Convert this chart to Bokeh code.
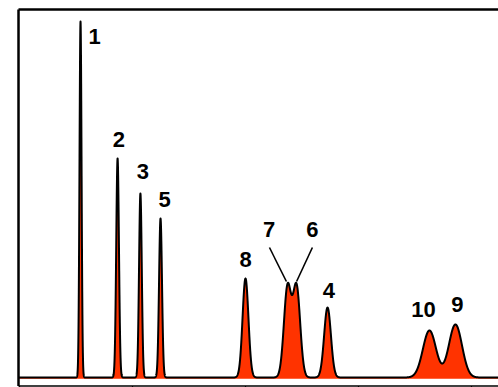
import numpy as np
from bokeh.plotting import figure
from bokeh.models import Range1d, ColumnDataSource
from bokeh.core.properties import value
from bokeh.embed import file_html
from bokeh.resources import INLINE

# Peak table (retention time in min, height in mAU, width sigma in min)
peak_names = ["1", "2", "3", "5", "8", "7", "6", "4", "10", "9"]
peak_times = [2.70, 4.34, 5.35, 6.24, 10.0, 11.86, 12.26, 13.63, 18.14, 19.29]
peak_heights = [356, 219, 184, 159, 99, 90, 90, 70, 47, 53]
peak_sigmas = [0.045, 0.06, 0.06, 0.065, 0.13, 0.16, 0.16, 0.15, 0.29, 0.29]

# Label anchor positions (time, signal)
label_t = [3.32, 4.40, 5.46, 6.42, 10.0, 11.04, 12.96, 13.69, 17.88, 19.38]
label_y = [341, 238, 206, 178.5, 118.5, 148.5, 148.5, 87, 68.5, 73]

# Leader lines for the unresolved pair 7/6
lead_t0 = [11.06, 12.96]
lead_y0 = [130, 130]
lead_t1 = [11.81, 12.26]
lead_y1 = [96, 96]

tick_times = [0, 5, 10, 15, 20]

T0, T1 = -0.841, 21.195
Y0, Y1 = -10, 377
TSTART = -0.044

t = np.arange(TSTART, T1, 0.004)
sig = np.zeros_like(t)
for tr, h, s in zip(peak_times, peak_heights, peak_sigmas):
    sig += h * np.exp(-0.5 * ((t - tr) / s) ** 2)

p = figure(width=498, height=387, x_range=Range1d(T0, T1), y_range=Range1d(Y0, Y1),
           output_backend="svg", toolbar_location=None, min_border=0,
           x_axis_type=None, y_axis_type=None)
p.grid.visible = False
p.outline_line_color = None
p.background_fill_color = "white"
p.border_fill_color = "white"

# fill and trace
p.varea(x=t, y1=-1.2, y2=sig, fill_color="#ff3300")
p.line(t, sig, line_color="black", line_width=2, line_join="round")

# frame
p.segment(x0=[TSTART, TSTART], y0=[368, 368], x1=[T1, TSTART], y1=[368, -8.5],
          line_color="black", line_width=2.5)
p.segment(x0=[TSTART], y0=[-8.5], x1=[T1], y1=[-8.5], line_color="black", line_width=1.5)
p.segment(x0=tick_times, y0=[-8.5] * len(tick_times), x1=tick_times,
          y1=[-10.5] * len(tick_times), line_color="black", line_width=1.2)

# leader lines
p.segment(x0=lead_t0, y0=lead_y0, x1=lead_t1, y1=lead_y1, line_color="black", line_width=1.6)

src = ColumnDataSource(dict(x=label_t, y=label_y, text=peak_names))
p.text(x="x", y="y", text="text", source=src, text_align="center", text_baseline="middle",
       text_font=value("Liberation Sans"), text_font_style="bold", text_font_size="22px",
       text_color="black")

open("out.html", "w").write(file_html(p, INLINE))
